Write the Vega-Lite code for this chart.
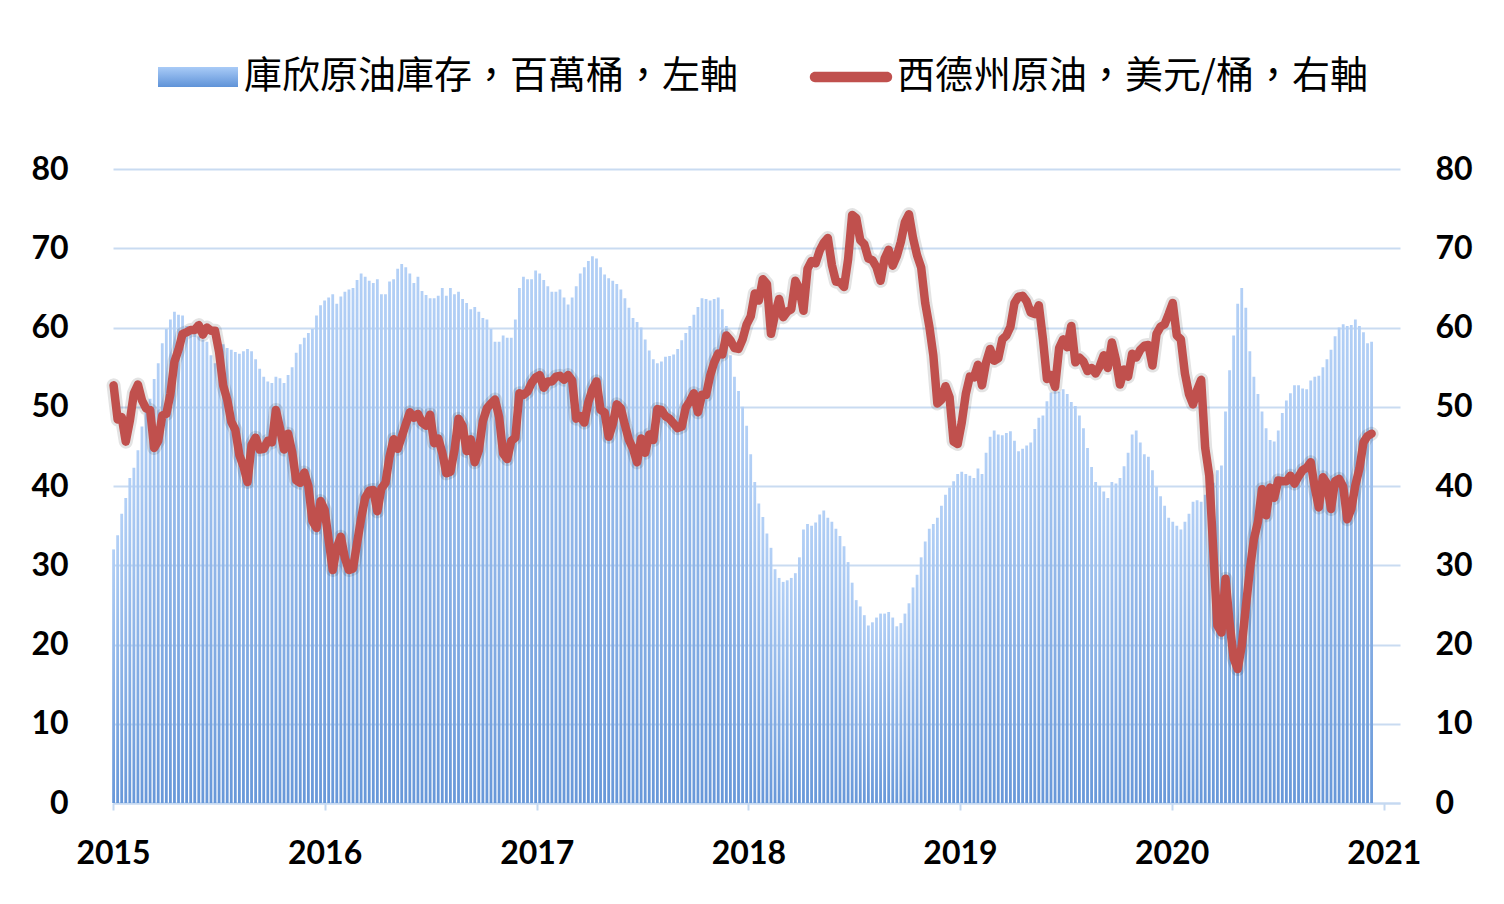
{
  "$schema": "https://vega.github.io/schema/vega-lite/v6.json",
  "width": 1287,
  "height": 634,
  "autosize": "none",
  "padding": {"left": 113, "top": 169, "right": 104, "bottom": 101},
  "background": "#ffffff",
  "config": {
    "view": {"stroke": null},
    "axis": {"labelFont": "Lato", "labelFontSize": 32, "labelFontWeight": "bold", "labelColor": "#000000", "title": null}
  },
  "data": {"values": [
{"d":"2015-01-02","inv":32,"wti":52.7},{"d":"2015-01-09","inv":33.8,"wti":48.4},{"d":"2015-01-16","inv":36.5,"wti":48.7},{"d":"2015-01-23","inv":38.5,"wti":45.6},{"d":"2015-01-30","inv":41,"wti":48.2},
{"d":"2015-02-06","inv":42.3,"wti":51.7},{"d":"2015-02-13","inv":44.5,"wti":52.8},{"d":"2015-02-20","inv":47.5,"wti":50.8},{"d":"2015-02-27","inv":49.5,"wti":49.8},
{"d":"2015-03-06","inv":51,"wti":49.6},{"d":"2015-03-13","inv":53.5,"wti":44.8},{"d":"2015-03-20","inv":55.5,"wti":45.7},{"d":"2015-03-27","inv":58,"wti":48.9},
{"d":"2015-04-03","inv":59.8,"wti":49.1},{"d":"2015-04-10","inv":61,"wti":51.6},{"d":"2015-04-17","inv":62,"wti":55.7},{"d":"2015-04-24","inv":61.6,"wti":57.2},
{"d":"2015-05-01","inv":61.5,"wti":59.2},{"d":"2015-05-08","inv":60.2,"wti":59.4},{"d":"2015-05-15","inv":59.6,"wti":59.7},{"d":"2015-05-22","inv":59.2,"wti":59.7},{"d":"2015-05-29","inv":58.9,"wti":60.3},
{"d":"2015-06-05","inv":58.5,"wti":59.1},{"d":"2015-06-12","inv":58.2,"wti":60.0},{"d":"2015-06-19","inv":56.5,"wti":59.6},{"d":"2015-06-26","inv":55.5,"wti":59.6},
{"d":"2015-07-03","inv":55.4,"wti":56.9},{"d":"2015-07-10","inv":57.9,"wti":52.7},{"d":"2015-07-17","inv":57.4,"wti":50.9},{"d":"2015-07-24","inv":57.2,"wti":48.1},{"d":"2015-07-31","inv":56.9,"wti":47.1},
{"d":"2015-08-07","inv":56.7,"wti":43.9},{"d":"2015-08-14","inv":57,"wti":42.5},{"d":"2015-08-21","inv":57.3,"wti":40.5},{"d":"2015-08-28","inv":57,"wti":45.2},
{"d":"2015-09-04","inv":56,"wti":46.1},{"d":"2015-09-11","inv":54.8,"wti":44.6},{"d":"2015-09-18","inv":53.8,"wti":44.7},{"d":"2015-09-25","inv":53.2,"wti":45.7},
{"d":"2015-10-02","inv":53,"wti":45.5},{"d":"2015-10-09","inv":53.8,"wti":49.6},{"d":"2015-10-16","inv":53.6,"wti":47.3},{"d":"2015-10-23","inv":53,"wti":44.6},{"d":"2015-10-30","inv":54,"wti":46.6},
{"d":"2015-11-06","inv":55,"wti":44.3},{"d":"2015-11-13","inv":56.8,"wti":40.7},{"d":"2015-11-20","inv":57.9,"wti":40.4},{"d":"2015-11-27","inv":58.7,"wti":41.7},
{"d":"2015-12-04","inv":59.3,"wti":40.0},{"d":"2015-12-11","inv":59.8,"wti":35.6},{"d":"2015-12-18","inv":61.5,"wti":34.7},{"d":"2015-12-25","inv":62.8,"wti":38.1},
{"d":"2016-01-01","inv":63.4,"wti":37.0},{"d":"2016-01-08","inv":63.8,"wti":33.2},{"d":"2016-01-15","inv":64.2,"wti":29.4},{"d":"2016-01-22","inv":63,"wti":32.2},{"d":"2016-01-29","inv":63.9,"wti":33.6},
{"d":"2016-02-05","inv":64.5,"wti":30.9},{"d":"2016-02-12","inv":64.8,"wti":29.4},{"d":"2016-02-19","inv":65,"wti":29.6},{"d":"2016-02-26","inv":66,"wti":32.8},
{"d":"2016-03-04","inv":66.8,"wti":35.9},{"d":"2016-03-11","inv":66.4,"wti":38.5},{"d":"2016-03-18","inv":65.9,"wti":39.4},{"d":"2016-03-25","inv":65.6,"wti":39.5},
{"d":"2016-04-01","inv":66.1,"wti":36.8},{"d":"2016-04-08","inv":64.2,"wti":39.7},{"d":"2016-04-15","inv":64.2,"wti":40.4},{"d":"2016-04-22","inv":65.8,"wti":43.7},{"d":"2016-04-29","inv":66.1,"wti":45.9},
{"d":"2016-05-06","inv":67.4,"wti":44.7},{"d":"2016-05-13","inv":68,"wti":46.2},{"d":"2016-05-20","inv":67.6,"wti":47.8},{"d":"2016-05-27","inv":66.8,"wti":49.3},
{"d":"2016-06-03","inv":65.6,"wti":48.6},{"d":"2016-06-10","inv":66.4,"wti":49.1},{"d":"2016-06-17","inv":64.6,"wti":48.0},{"d":"2016-06-24","inv":64.1,"wti":47.6},
{"d":"2016-07-01","inv":63.7,"wti":49.0},{"d":"2016-07-08","inv":63.7,"wti":45.4},{"d":"2016-07-15","inv":64,"wti":46.0},{"d":"2016-07-22","inv":65,"wti":44.2},{"d":"2016-07-29","inv":64,"wti":41.6},
{"d":"2016-08-05","inv":65,"wti":41.8},{"d":"2016-08-12","inv":64.2,"wti":44.5},{"d":"2016-08-19","inv":64.5,"wti":48.5},{"d":"2016-08-26","inv":63.6,"wti":47.6},
{"d":"2016-09-02","inv":63.1,"wti":44.4},{"d":"2016-09-09","inv":62.3,"wti":45.9},{"d":"2016-09-16","inv":62.6,"wti":43.0},{"d":"2016-09-23","inv":62,"wti":44.5},{"d":"2016-09-30","inv":61.2,"wti":48.2},
{"d":"2016-10-07","inv":61,"wti":49.8},{"d":"2016-10-14","inv":59.8,"wti":50.4},{"d":"2016-10-21","inv":58.2,"wti":50.9},{"d":"2016-10-28","inv":58.2,"wti":48.7},
{"d":"2016-11-04","inv":59,"wti":44.1},{"d":"2016-11-11","inv":58.7,"wti":43.4},{"d":"2016-11-18","inv":58.7,"wti":45.7},{"d":"2016-11-25","inv":61,"wti":46.1},
{"d":"2016-12-02","inv":65,"wti":51.7},{"d":"2016-12-09","inv":66.4,"wti":51.5},{"d":"2016-12-16","inv":66.1,"wti":51.9},{"d":"2016-12-23","inv":66.1,"wti":53.0},{"d":"2016-12-30","inv":67.2,"wti":53.7},
{"d":"2017-01-06","inv":66.8,"wti":54.0},{"d":"2017-01-13","inv":66,"wti":52.4},{"d":"2017-01-20","inv":65.2,"wti":53.2},{"d":"2017-01-27","inv":64.5,"wti":53.2},
{"d":"2017-02-03","inv":64.5,"wti":53.8},{"d":"2017-02-10","inv":64.8,"wti":53.9},{"d":"2017-02-17","inv":63.8,"wti":53.4},{"d":"2017-02-24","inv":62.9,"wti":54.0},
{"d":"2017-03-03","inv":63.8,"wti":53.3},{"d":"2017-03-10","inv":65.2,"wti":48.5},{"d":"2017-03-17","inv":66.8,"wti":48.8},{"d":"2017-03-24","inv":67.6,"wti":48.0},{"d":"2017-03-31","inv":68.4,"wti":50.6},
{"d":"2017-04-07","inv":69,"wti":52.2},{"d":"2017-04-14","inv":68.7,"wti":53.2},{"d":"2017-04-21","inv":67.6,"wti":49.6},{"d":"2017-04-28","inv":66.7,"wti":49.3},
{"d":"2017-05-05","inv":66.2,"wti":46.2},{"d":"2017-05-12","inv":65.9,"wti":47.8},{"d":"2017-05-19","inv":65.5,"wti":50.3},{"d":"2017-05-26","inv":64.8,"wti":49.8},
{"d":"2017-06-02","inv":63.7,"wti":47.7},{"d":"2017-06-09","inv":62.5,"wti":45.8},{"d":"2017-06-16","inv":61.2,"wti":44.7},{"d":"2017-06-23","inv":60.7,"wti":43.0},{"d":"2017-06-30","inv":60,"wti":46.0},
{"d":"2017-07-07","inv":58.5,"wti":44.2},{"d":"2017-07-14","inv":57.1,"wti":46.5},{"d":"2017-07-21","inv":56,"wti":45.8},{"d":"2017-07-28","inv":55.5,"wti":49.7},
{"d":"2017-08-04","inv":55.7,"wti":49.6},{"d":"2017-08-11","inv":56.3,"wti":48.8},{"d":"2017-08-18","inv":56.4,"wti":48.5},{"d":"2017-08-25","inv":56.6,"wti":47.9},
{"d":"2017-09-01","inv":57.3,"wti":47.3},{"d":"2017-09-08","inv":58.4,"wti":47.5},{"d":"2017-09-15","inv":59.3,"wti":49.9},{"d":"2017-09-22","inv":60.2,"wti":50.7},{"d":"2017-09-29","inv":61.6,"wti":51.7},
{"d":"2017-10-06","inv":62.6,"wti":49.3},{"d":"2017-10-13","inv":63.7,"wti":51.5},{"d":"2017-10-20","inv":63.6,"wti":51.5},{"d":"2017-10-27","inv":63.4,"wti":53.9},
{"d":"2017-11-03","inv":63.6,"wti":55.6},{"d":"2017-11-10","inv":63.8,"wti":56.7},{"d":"2017-11-17","inv":62.3,"wti":56.6},{"d":"2017-11-24","inv":60.2,"wti":59.0},
{"d":"2017-12-01","inv":56.5,"wti":58.4},{"d":"2017-12-08","inv":53.8,"wti":57.4},{"d":"2017-12-15","inv":52,"wti":57.3},{"d":"2017-12-22","inv":50,"wti":58.5},{"d":"2017-12-29","inv":47.6,"wti":60.4},
{"d":"2018-01-05","inv":44,"wti":61.4},{"d":"2018-01-12","inv":40.5,"wti":64.3},{"d":"2018-01-19","inv":37.8,"wti":63.4},{"d":"2018-01-26","inv":36.1,"wti":66.1},
{"d":"2018-02-02","inv":34,"wti":65.5},{"d":"2018-02-09","inv":32.2,"wti":59.2},{"d":"2018-02-16","inv":29.5,"wti":61.7},{"d":"2018-02-23","inv":28.4,"wti":63.6},
{"d":"2018-03-02","inv":27.9,"wti":61.3},{"d":"2018-03-09","inv":28.1,"wti":62.0},{"d":"2018-03-16","inv":28.4,"wti":62.3},{"d":"2018-03-23","inv":29,"wti":65.9},{"d":"2018-03-30","inv":31,"wti":64.9},
{"d":"2018-04-06","inv":34.5,"wti":62.1},{"d":"2018-04-13","inv":35.2,"wti":67.4},{"d":"2018-04-20","inv":35,"wti":68.4},{"d":"2018-04-27","inv":35.4,"wti":68.1},
{"d":"2018-05-04","inv":36.4,"wti":69.7},{"d":"2018-05-11","inv":36.9,"wti":70.7},{"d":"2018-05-18","inv":36,"wti":71.3},{"d":"2018-05-25","inv":35.5,"wti":67.9},
{"d":"2018-06-01","inv":34.6,"wti":65.8},{"d":"2018-06-08","inv":33.7,"wti":65.7},{"d":"2018-06-15","inv":32.4,"wti":65.1},{"d":"2018-06-22","inv":30.4,"wti":68.6},{"d":"2018-06-29","inv":27.8,"wti":74.2},
{"d":"2018-07-06","inv":25.6,"wti":73.8},{"d":"2018-07-13","inv":24.8,"wti":71.0},{"d":"2018-07-20","inv":23.7,"wti":70.5},{"d":"2018-07-27","inv":22.4,"wti":68.7},
{"d":"2018-08-03","inv":22.8,"wti":68.5},{"d":"2018-08-10","inv":23.4,"wti":67.6},{"d":"2018-08-17","inv":23.9,"wti":65.9},{"d":"2018-08-24","inv":23.9,"wti":68.7},{"d":"2018-08-31","inv":24.1,"wti":69.8},
{"d":"2018-09-07","inv":23.4,"wti":67.8},{"d":"2018-09-14","inv":22.3,"wti":69.0},{"d":"2018-09-21","inv":22.7,"wti":70.8},{"d":"2018-09-28","inv":23.9,"wti":73.3},
{"d":"2018-10-05","inv":25.2,"wti":74.3},{"d":"2018-10-12","inv":27.2,"wti":71.3},{"d":"2018-10-19","inv":28.8,"wti":69.1},{"d":"2018-10-26","inv":31,"wti":67.6},
{"d":"2018-11-02","inv":33,"wti":63.1},{"d":"2018-11-09","inv":34.6,"wti":60.2},{"d":"2018-11-16","inv":35.2,"wti":56.5},{"d":"2018-11-23","inv":36,"wti":50.4},{"d":"2018-11-30","inv":37.5,"wti":50.9},
{"d":"2018-12-07","inv":38.9,"wti":52.6},{"d":"2018-12-14","inv":39.8,"wti":51.2},{"d":"2018-12-21","inv":40.6,"wti":45.6},{"d":"2018-12-28","inv":41.5,"wti":45.3},
{"d":"2019-01-04","inv":41.8,"wti":48.0},{"d":"2019-01-11","inv":41.5,"wti":51.6},{"d":"2019-01-18","inv":41.3,"wti":53.8},{"d":"2019-01-25","inv":41,"wti":53.7},
{"d":"2019-02-01","inv":42.2,"wti":55.3},{"d":"2019-02-08","inv":41.5,"wti":52.7},{"d":"2019-02-15","inv":44.2,"wti":55.6},{"d":"2019-02-22","inv":46.2,"wti":57.3},
{"d":"2019-03-01","inv":47,"wti":55.8},{"d":"2019-03-08","inv":46.5,"wti":56.1},{"d":"2019-03-15","inv":46.4,"wti":58.5},{"d":"2019-03-22","inv":46.7,"wti":59.0},{"d":"2019-03-29","inv":46.9,"wti":60.1},
{"d":"2019-04-05","inv":45.7,"wti":63.1},{"d":"2019-04-12","inv":44.4,"wti":63.9},{"d":"2019-04-19","inv":44.7,"wti":64.0},{"d":"2019-04-26","inv":45.1,"wti":63.3},
{"d":"2019-05-03","inv":45.5,"wti":61.9},{"d":"2019-05-10","inv":47.2,"wti":61.7},{"d":"2019-05-17","inv":48.6,"wti":62.8},{"d":"2019-05-24","inv":48.9,"wti":58.6},{"d":"2019-05-31","inv":50.7,"wti":53.5},
{"d":"2019-06-07","inv":51.8,"wti":54.0},{"d":"2019-06-14","inv":52.2,"wti":52.5},{"d":"2019-06-21","inv":51.9,"wti":57.4},{"d":"2019-06-28","inv":52.2,"wti":58.5},
{"d":"2019-07-05","inv":51.6,"wti":57.5},{"d":"2019-07-12","inv":50.6,"wti":60.2},{"d":"2019-07-19","inv":50.1,"wti":55.6},{"d":"2019-07-26","inv":48.9,"wti":56.2},
{"d":"2019-08-02","inv":47.3,"wti":55.7},{"d":"2019-08-09","inv":44.8,"wti":54.5},{"d":"2019-08-16","inv":42.4,"wti":54.9},{"d":"2019-08-23","inv":40.5,"wti":54.2},{"d":"2019-08-30","inv":40,"wti":55.1},
{"d":"2019-09-06","inv":39.3,"wti":56.5},{"d":"2019-09-13","inv":38.5,"wti":54.9},{"d":"2019-09-20","inv":40.5,"wti":58.1},{"d":"2019-09-27","inv":40.3,"wti":55.9},
{"d":"2019-10-04","inv":41,"wti":52.8},{"d":"2019-10-11","inv":42.5,"wti":54.7},{"d":"2019-10-18","inv":44.2,"wti":53.8},{"d":"2019-10-25","inv":46.5,"wti":56.7},
{"d":"2019-11-01","inv":47,"wti":56.2},{"d":"2019-11-08","inv":45.5,"wti":57.2},{"d":"2019-11-15","inv":44,"wti":57.7},{"d":"2019-11-22","inv":43.7,"wti":57.8},{"d":"2019-11-29","inv":42,"wti":55.2},
{"d":"2019-12-06","inv":39.9,"wti":59.2},{"d":"2019-12-13","inv":38.7,"wti":60.1},{"d":"2019-12-20","inv":37.5,"wti":60.4},{"d":"2019-12-27","inv":36,"wti":61.7},
{"d":"2020-01-03","inv":35.5,"wti":63.1},{"d":"2020-01-10","inv":35,"wti":59.0},{"d":"2020-01-17","inv":34.5,"wti":58.5},{"d":"2020-01-24","inv":35.5,"wti":54.2},{"d":"2020-01-31","inv":36.5,"wti":51.6},
{"d":"2020-02-07","inv":38,"wti":50.3},{"d":"2020-02-14","inv":38.2,"wti":52.1},{"d":"2020-02-21","inv":38,"wti":53.4},{"d":"2020-02-28","inv":38.9,"wti":44.8},
{"d":"2020-03-06","inv":39.7,"wti":41.3},{"d":"2020-03-13","inv":40.4,"wti":31.7},{"d":"2020-03-20","inv":42,"wti":22.4},{"d":"2020-03-27","inv":42.6,"wti":21.5},
{"d":"2020-04-03","inv":49.4,"wti":28.3},{"d":"2020-04-10","inv":54.6,"wti":22.8},{"d":"2020-04-17","inv":59,"wti":18.3},{"d":"2020-04-24","inv":63,"wti":16.9},
{"d":"2020-05-01","inv":65,"wti":19.8},{"d":"2020-05-08","inv":62.5,"wti":24.7},{"d":"2020-05-15","inv":57,"wti":29.4},{"d":"2020-05-22","inv":53.8,"wti":33.3},{"d":"2020-05-29","inv":51.6,"wti":35.5},
{"d":"2020-06-05","inv":49.4,"wti":39.6},{"d":"2020-06-12","inv":47.3,"wti":36.3},{"d":"2020-06-19","inv":45.8,"wti":39.8},{"d":"2020-06-26","inv":45.6,"wti":38.5},
{"d":"2020-07-03","inv":47,"wti":40.7},{"d":"2020-07-10","inv":49.2,"wti":40.6},{"d":"2020-07-17","inv":50.8,"wti":40.6},{"d":"2020-07-24","inv":51.7,"wti":41.3},{"d":"2020-07-31","inv":52.7,"wti":40.3},
{"d":"2020-08-07","inv":52.7,"wti":41.2},{"d":"2020-08-14","inv":52.3,"wti":42.0},{"d":"2020-08-21","inv":52.2,"wti":42.3},{"d":"2020-08-28","inv":53.3,"wti":43.0},
{"d":"2020-09-04","inv":53.8,"wti":39.8},{"d":"2020-09-11","inv":53.9,"wti":37.3},{"d":"2020-09-18","inv":55,"wti":41.1},{"d":"2020-09-25","inv":56,"wti":40.3},
{"d":"2020-10-02","inv":57.2,"wti":37.1},{"d":"2020-10-09","inv":58.9,"wti":40.6},{"d":"2020-10-16","inv":60,"wti":40.9},{"d":"2020-10-23","inv":60.4,"wti":39.9},{"d":"2020-10-30","inv":60.2,"wti":35.8},
{"d":"2020-11-06","inv":60.3,"wti":37.1},{"d":"2020-11-13","inv":61,"wti":40.1},{"d":"2020-11-20","inv":60.2,"wti":42.2},{"d":"2020-11-27","inv":59.4,"wti":45.5},
{"d":"2020-12-04","inv":58,"wti":46.3},{"d":"2020-12-11","inv":58.2,"wti":46.6}
  ]},
  "encoding": {
    "x": {
      "field": "d", "type": "temporal",
      "scale": {"type": "utc", "padding": 0, "domain": [{"year": 2015, "month": 1, "date": 1, "utc": true}, {"year": 2021, "month": 1, "date": 29, "utc": true}]},
      "axis": {
        "values": [{"year": 2015, "month": 1, "date": 1, "utc": true}, {"year": 2016, "month": 1, "date": 1, "utc": true}, {"year": 2017, "month": 1, "date": 1, "utc": true}, {"year": 2018, "month": 1, "date": 1, "utc": true}, {"year": 2019, "month": 1, "date": 1, "utc": true}, {"year": 2020, "month": 1, "date": 1, "utc": true}, {"year": 2021, "month": 1, "date": 1, "utc": true}],
        "format": "%Y", "formatType": "utc",
        "grid": false, "domainColor": "#c5d9f1", "domainWidth": 2,
        "tickColor": "#c5d9f1", "tickWidth": 2, "tickSize": 7,
        "labelPadding": 28, "labelFlush": false, "labelOverlap": false
      }
    }
  },
  "layer": [
    {
      "mark": {"type": "bar", "width": 2.8, "color": {"gradient": "linear", "x1": 0, "y1": 0, "x2": 0, "y2": 1, "stops": [{"offset": 0, "color": "#b3d0f6"}, {"offset": 1, "color": "#6898d9"}]}},
      "encoding": {
        "y": {
          "field": "inv", "type": "quantitative",
          "scale": {"domain": [0, 80], "nice": false},
          "axis": {"orient": "left", "values": [0, 10, 20, 30, 40, 50, 60, 70, 80], "domain": false, "ticks": false, "grid": true, "gridColor": "#c9dbf1", "gridWidth": 2, "labelPadding": 45}
        }
      }
    },
    {
      "mark": {"type": "line", "color": "#000000", "opacity": 0.11, "strokeWidth": 14, "strokeJoin": "round", "strokeCap": "round"},
      "encoding": {
        "y": {"field": "wti", "type": "quantitative", "scale": {"domain": [0, 80], "nice": false}, "axis": null}
      }
    },
    {
      "mark": {"type": "line", "strokeWidth": 8.5, "strokeJoin": "round", "strokeCap": "round"},
      "encoding": {
        "y": {
          "field": "wti", "type": "quantitative",
          "scale": {"domain": [0, 80], "nice": false},
          "axis": {"orient": "right", "values": [0, 10, 20, 30, 40, 50, 60, 70, 80], "domain": false, "ticks": false, "grid": false, "labelPadding": 35}
        },
        "color": {
          "datum": "西德州原油，美元/桶，右軸",
          "scale": {"domain": ["庫欣原油庫存，百萬桶，左軸", "西德州原油，美元/桶，右軸"], "range": ["#8db5ea", "#C0504D"]},
          "legend": {
            "orient": "none", "legendX": 45, "legendY": -132, "direction": "horizontal", "columns": 2,
            "title": null, "labelFont": "Noto Sans CJK TC", "labelFontSize": 38, "labelColor": "#000000",
            "labelLimit": 1000, "labelOffset": 6, "columnPadding": 70,
            "symbolSize": 6400, "symbolStrokeWidth": 0,
            "encode": {
              "symbols": {
                "update": {
                  "fill": {"signal": "datum.value === '庫欣原油庫存，百萬桶，左軸' ? {gradient: 'linear', x1: 0, y1: 0, x2: 0, y2: 1, stops: [{offset: 0, color: '#a9cbf7'}, {offset: 1, color: '#5f93d8'}]} : '#C0504D'"},
                  "stroke": {"value": "transparent"},
                  "strokeWidth": {"value": 0},
                  "opacity": {"value": 1},
                  "shape": {"signal": "datum.value === '庫欣原油庫存，百萬桶，左軸' ? 'M-1,-0.25H1V0.25H-1Z' : 'M-0.9,-0.13H0.9A0.13,0.13 0 0 1 0.9,0.13H-0.9A0.13,0.13 0 0 1 -0.9,-0.13Z'"}
                }
              }
            }
          }
        }
      }
    }
  ],
  "resolve": {"scale": {"y": "independent"}}
}
